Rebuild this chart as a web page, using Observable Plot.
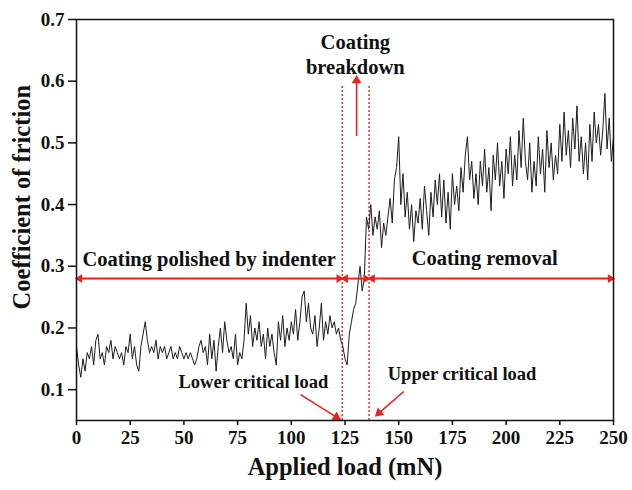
<!DOCTYPE html>
<html>
<head>
<meta charset="utf-8">
<script src="https://cdn.jsdelivr.net/npm/d3@7"></script>
<script src="https://cdn.jsdelivr.net/npm/@observablehq/plot@0.6"></script>
<style>
  html, body { margin: 0; padding: 0; background: #fff; }
  #chart svg { display: block; }
</style>
</head>
<body>
<div id="chart"></div>
<script>
const cof = [
  0.17,0.14,0.12,0.15,0.13,0.16,0.15,0.17,0.14,0.18,
  0.19,0.15,0.16,0.14,0.17,0.16,0.18,0.15,0.17,0.16,
  0.15,0.16,0.14,0.17,0.16,0.19,0.15,0.17,0.14,0.13,
  0.17,0.19,0.21,0.18,0.16,0.17,0.16,0.18,0.15,0.17,
  0.16,0.17,0.15,0.16,0.17,0.15,0.16,0.15,0.17,0.16,
  0.15,0.16,0.15,0.16,0.15,0.14,0.15,0.17,0.18,0.16,
  0.17,0.14,0.19,0.15,0.18,0.13,0.17,0.20,0.16,0.21,
  0.18,0.16,0.17,0.15,0.19,0.14,0.16,0.15,0.18,0.24,
  0.19,0.22,0.17,0.20,0.18,0.21,0.17,0.19,0.15,0.20,
  0.17,0.19,0.16,0.14,0.21,0.18,0.22,0.17,0.20,0.18,
  0.21,0.19,0.23,0.18,0.21,0.25,0.26,0.21,0.24,0.20,
  0.19,0.22,0.17,0.20,0.24,0.18,0.21,0.19,0.22,0.20,
  0.21,0.19,0.20,0.18,0.17,0.15,0.14,0.19,0.21,0.23,
  0.24,0.27,0.30,0.26,0.28,0.38,0.36,0.40,0.35,0.38,
  0.36,0.39,0.33,0.37,0.35,0.38,0.41,0.37,0.44,0.46,
  0.51,0.40,0.45,0.38,0.42,0.36,0.40,0.34,0.39,0.37,
  0.41,0.36,0.43,0.39,0.35,0.42,0.38,0.44,0.40,0.45,
  0.38,0.44,0.37,0.42,0.36,0.45,0.40,0.43,0.39,0.46,
  0.42,0.48,0.51,0.44,0.47,0.41,0.45,0.40,0.47,0.43,
  0.49,0.42,0.46,0.39,0.48,0.44,0.50,0.43,0.47,0.41,
  0.49,0.45,0.51,0.43,0.48,0.44,0.52,0.46,0.54,0.47,
  0.44,0.50,0.42,0.47,0.43,0.51,0.45,0.49,0.42,0.52,
  0.46,0.50,0.44,0.48,0.45,0.53,0.47,0.55,0.48,0.52,
  0.46,0.54,0.49,0.56,0.47,0.51,0.45,0.50,0.44,0.53,
  0.47,0.55,0.50,0.53,0.48,0.52,0.58,0.49,0.54,0.47,
  0.51
];
const loadStep = 1; // mN between samples

// Axis ticks
const xTicks = [0, 25, 50, 75, 100, 125, 150, 175, 200, 225, 250];
const yTicks = [0.1, 0.2, 0.3, 0.4, 0.5, 0.6, 0.7];

// Annotation values
const lowerCritical = 123.7;
const upperCritical = 136.2;
const arrowLevel = 0.28;
const regionLabels = ["Coating polished by indenter", "Coating removal"];
const breakdownLabel = ["Coating", "breakdown"];
const criticalLabels = ["Lower critical load", "Upper critical load"];

const series = cof.map((v, i) => ({load: i * loadStep, cof: v}));

const red = "#e8221d";
const ink = "#111";
const serif = "'Liberation Serif', 'Times New Roman', serif";

// horizontal double-headed arrows: [start, end]
const spans = [[0, lowerCritical], [lowerCritical, upperCritical], [upperCritical, 250]];
const headBack = 1.5; // mN from tip to head centre
const hLines = spans.map(([a, b]) => ({x1: a + headBack, x2: b - headBack}));
const hHeads = spans.flatMap(([a, b]) => [
  {x: a + headBack, rot: -90},
  {x: b - headBack, rot: 90}
]);
// slanted pointer arrows and breakdown arrow (line + head)
const pointers = [
  {x1: 104.3, y1: 0.092, x2: 121.0, y2: 0.0555, rot: 122},
  {x1: 152.4, y1: 0.097, x2: 140.8, y2: 0.062, rot: -132},
  {x1: 130.4, y1: 0.511, x2: 130.4, y2: 0.601, rot: 0}
];

const txt = (s, o) => Plot.text([s], {text: d => d, fontWeight: "bold", fontFamily: serif, fill: ink, ...o});

const chart = Plot.plot({
  width: 632,
  height: 490,
  marginLeft: 76,
  marginRight: 19,
  marginTop: 19,
  marginBottom: 70,
  style: {fontFamily: serif, fontWeight: "bold", fontSize: "19px", color: ink, background: "#fff"},
  x: {domain: [0, 250]},
  y: {domain: [0.05, 0.7]},
  marks: [
    Plot.axisX(xTicks, {tickSize: 5, tickPadding: 5, strokeWidth: 1.5, label: null, fontSize: 19, fontWeight: "bold"}),
    Plot.axisY(yTicks, {tickSize: 8, tickPadding: 4, strokeWidth: 1.5, tickFormat: ".1f", label: null, fontSize: 19, fontWeight: "bold"}),
    Plot.ruleX([lowerCritical, upperCritical], {y1: 0.05, y2: 0.593, stroke: red, strokeWidth: 1.4, strokeDasharray: "2,2"}),
    Plot.line(series, {x: "load", y: "cof", stroke: "#1c1c1c", strokeWidth: 1}),
    Plot.link(hLines, {x1: "x1", x2: "x2", y1: arrowLevel, y2: arrowLevel, stroke: red, strokeWidth: 2}),
    Plot.dot(hHeads, {x: "x", y: arrowLevel, rotate: "rot", symbol: "triangle", r: 3.2, fill: red, stroke: null}),
    Plot.link(pointers, {x1: "x1", y1: "y1", x2: "x2", y2: "y2", stroke: red, strokeWidth: 1.6}),
    Plot.dot(pointers, {x: "x2", y: "y2", rotate: "rot", symbol: "triangle", r: 3.6, fill: red, stroke: null}),
    txt(regionLabels[0], {x: 2.8, y: 0.311, textAnchor: "start", fontSize: 20.5}),
    txt(regionLabels[1], {x: 190, y: 0.313, fontSize: 20.5}),
    txt(breakdownLabel[0], {x: 129.8, y: 0.663, fontSize: 20.5}),
    txt(breakdownLabel[1], {x: 129.8, y: 0.622, fontSize: 20.5}),
    txt(criticalLabels[0], {x: 47.5, y: 0.113, textAnchor: "start", fontSize: 18.5}),
    txt(criticalLabels[1], {x: 144.9, y: 0.125, textAnchor: "start", fontSize: 18.5}),
    txt("Coefficient of friction", {x: -25.2, y: 0.412, rotate: -90, textAnchor: "middle", fontSize: 24.5}),
    txt("Applied load (mN)", {frameAnchor: "bottom", dy: 54, textAnchor: "middle", fontSize: 24.5}),
    Plot.frame({stroke: ink, strokeWidth: 1.5})
  ]
});
document.getElementById("chart").appendChild(chart);
</script>
</body>
</html>
